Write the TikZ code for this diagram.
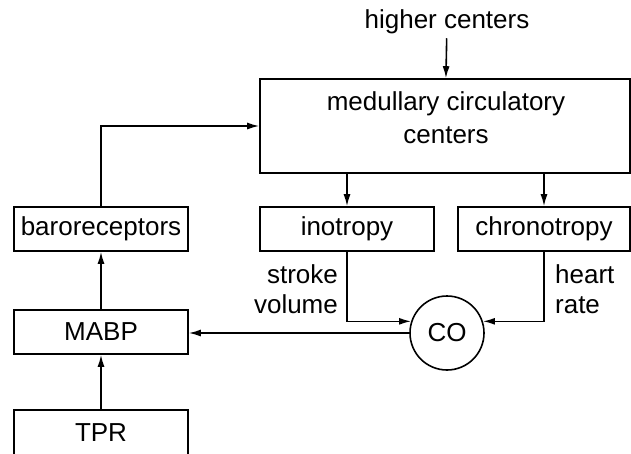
\documentclass[tikz,border=0pt]{standalone}
\usepackage{fontspec}
\setmainfont{Liberation Sans}
\usetikzlibrary{arrows.meta}
\begin{document}
\begin{tikzpicture}[x=1pt,y=-1pt,line width=1.6pt,
  font=\fontsize{26}{30}\selectfont,
  box/.style={draw,minimum width=174pt,minimum height=44pt,inner sep=0pt},
  arr/.style={-{Latex[length=12pt,width=7pt]}}]
 \useasboundingbox (0,0) rectangle (631,453);
 % boxes
 \node (higher) at (447,22) {higher centers};
 \node[box,minimum width=370pt,minimum height=94pt] (med) at (445,126) {};
 \node[align=center,font=\fontsize{26}{33}\selectfont] (medtext) at (446,118) {medullary circulatory\\centers};
 \node[box] (baro) at (101,229) {baroreceptors};
 \node[box] (ino) at (347,229) {inotropy};
 \node[box,minimum width=172pt] (chrono) at (544,229) {chronotropy};
 \node[box] (mabp) at (101,332) {MABP};
 \node[box,minimum height=46pt] (tpr) at (101,433) {TPR};
 \node[draw,circle,minimum size=74pt,inner sep=0pt] (co) at (447,333) {CO};
 % labels
 \node[anchor=east,align=right] (sv) at (342,289) {stroke\\volume};
 \node[anchor=west,align=left] (hr) at (551,289) {heart\\rate};
 % arrows
 \draw[arr] (higher) -- (med);
 \draw[arr] (baro.north) |- (med.west);
 \draw[arr] (ino.north |- med.south) -- (ino.north);
 \draw[arr] (chrono.north |- med.south) -- (chrono.north);
 \draw[arr] (ino.south) |- (co.162);
 \draw[arr] (chrono.south) |- (co.18);
 \draw[arr] (co) -- (mabp.east |- co);
 \draw[arr] (mabp) -- (baro);
 \draw[arr] (tpr) -- (mabp);
\end{tikzpicture}
\end{document}
